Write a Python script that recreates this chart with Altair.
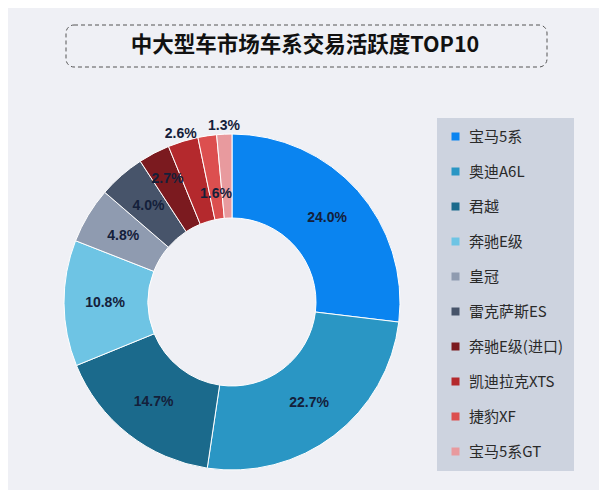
import altair as alt
import pandas as pd

# ---- data ----
names = ["宝马5系", "奥迪A6L", "君越", "奔驰E级", "皇冠", "雷克萨斯ES",
         "奔驰E级(进口)", "凯迪拉克XTS", "捷豹XF", "宝马5系GT"]
values = [24.0, 22.7, 14.7, 10.8, 4.8, 4.0, 2.7, 2.6, 1.6, 1.3]
colors = ["#0a84f0", "#2a96c4", "#1b6a8c", "#6ec4e4", "#8f9bb0", "#47546a",
          "#7b1a1f", "#b4292d", "#dc4f4f", "#e89a9e"]
title_text = ["中大型车市场车系交易活跃度TOP10"]

df = pd.DataFrame({"name": names, "value": values, "idx": list(range(len(names)))})

CX, CY = 224, 294

base = (
    alt.Chart(df)
    .transform_window(cum="sum(value)", sort=[alt.SortField("idx")], frame=[None, 0])
    .transform_joinaggregate(total="sum(value)")
    .transform_calculate(
        mid="(datum.cum - datum.value / 2) / datum.total",
        lr="datum.idx == 7 || datum.idx == 9 ? 176 : (datum.idx == 6 ? 139 : (datum.idx == 8 ? 109 : 127))",
        label="format(datum.value, '.1f') + '%'",
    )
)

arcs = base.mark_arc(innerRadius=84, outerRadius=168, stroke="white", strokeWidth=1).encode(
    theta=alt.Theta("value:Q", stack=True),
    color=alt.Color(
        "name:N",
        sort=names,
        scale=alt.Scale(domain=names, range=colors),
        legend=alt.Legend(
            orient="none", legendX=429, legendY=110, title=None,
            fillColor="#cdd3df", padding=11,
            labelFont="Noto Sans CJK SC", labelFontSize=15, labelColor="#2a2a2a",
            labelOffset=6, symbolType="square", symbolSize=64, symbolStrokeWidth=0,
            rowPadding=19,
        ),
    ),
    order=alt.Order("idx:Q"),
    x=alt.value(CX),
    y=alt.value(CY),
)

labels = base.mark_text(
    font="Liberation Sans", fontWeight="bold", fontSize=14, color="#14203a"
).encode(
    theta=alt.Theta("mid:Q", stack=None, scale=alt.Scale(domain=[0, 1], range=[0, 6.283185307])),
    radius=alt.Radius("lr:Q", scale=None),
    text="label:N",
    x=alt.value(CX),
    y=alt.value(CY),
)

tdf = pd.DataFrame({"t": title_text})
box = alt.Chart(tdf).mark_rect(
    fillOpacity=0, stroke="#555555", strokeWidth=1, strokeDash=[4, 3], cornerRadius=8
).encode(x=alt.value(58), x2=alt.value(539), y=alt.value(17), y2=alt.value(59))

title = alt.Chart(tdf).mark_text(
    font="Noto Sans CJK SC", fontWeight="bold", fontSize=21.5, color="#111111", baseline="middle"
).encode(text="t:N", x=alt.value(297), y=alt.value(38))

chart = (
    alt.layer(box, title, arcs, labels)
    .resolve_scale(theta="independent")
    .properties(
        width=591, height=482,
        autosize=alt.AutoSizeParams(type="none"),
        padding=0,
        background="#eff0f5",
    )
    .configure_view(stroke=None)
)

chart.save("out.html", embed_options={"renderer": "svg", "actions": False})
